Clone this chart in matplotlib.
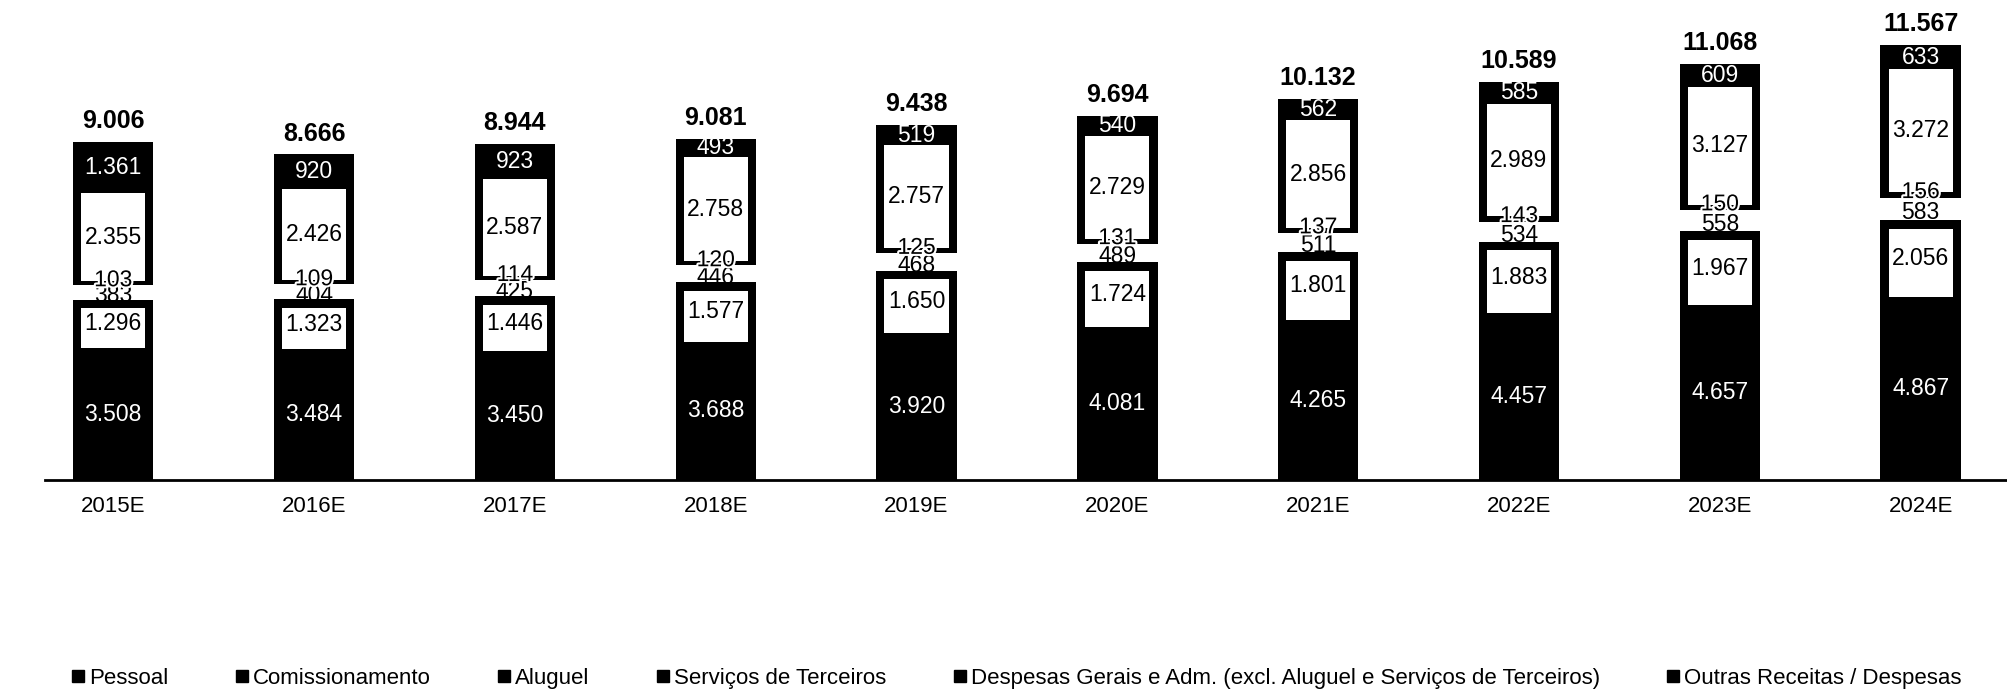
import matplotlib
matplotlib.use("Agg")
import matplotlib.pyplot as plt
import matplotlib.patheffects as pe
from matplotlib.lines import Line2D
import numpy as np

plt.rcParams['font.family'] = ['Liberation Sans', 'DejaVu Sans']

years = ["2015E", "2016E", "2017E", "2018E", "2019E", "2020E", "2021E", "2022E", "2023E", "2024E"]
pessoal = [3508, 3484, 3450, 3688, 3920, 4081, 4265, 4457, 4657, 4867]
comissionamento = [1296, 1323, 1446, 1577, 1650, 1724, 1801, 1883, 1967, 2056]
aluguel = [383, 404, 425, 446, 468, 489, 511, 534, 558, 583]
servicos = [103, 109, 114, 120, 125, 131, 137, 143, 150, 156]
despesas = [2355, 2426, 2587, 2758, 2757, 2729, 2856, 2989, 3127, 3272]
outras = [1361, 920, 923, 493, 519, 540, 562, 585, 609, 633]
totais = [9006, 8666, 8944, 9081, 9438, 9694, 10132, 10589, 11068, 11567]
series_names = ["Pessoal", "Comissionamento", "Aluguel", "Serviços de Terceiros",
                "Despesas Gerais e Adm. (excl. Aluguel e Serviços de Terceiros)",
                "Outras Receitas / Despesas"]


def fmt(v):
    return f"{v:,}".replace(",", ".")


fig = plt.figure(figsize=(20.07, 6.94), dpi=100)
ax = fig.add_axes([0.0224, 0.308, 0.9776, 0.692])

x = np.arange(len(years))
W = 0.40
Winner = 0.32
pad = 230

series = [pessoal, comissionamento, aluguel, servicos, despesas, outras]
faces = ["black", "black", "white", "black", "black", "black"]
txtcol = ["white", "black", "black", "black", "black", "white"]
nudge = [0, 0, -2.5, 2.5, 0, 0]

bottom = np.zeros(len(years))
bottoms = []
for vals, fc in zip(series, faces):
    vals = np.array(vals, dtype=float)
    ax.bar(x, vals, W, bottom=bottom, color=fc, edgecolor="none", zorder=2)
    bottoms.append(bottom.copy())
    bottom = bottom + vals

# white inner panels for Comissionamento and Despesas
com = np.array(comissionamento, float)
ax.bar(x, com - pad, Winner, bottom=bottoms[1], color="white", edgecolor="none", zorder=3)
des = np.array(despesas, float)
ax.bar(x, des, Winner, bottom=bottoms[4], color="white", edgecolor="none", zorder=3)

# segment labels
for si, vals in enumerate(series):
    for i, v in enumerate(vals):
        yc = bottoms[si][i] + v / 2
        kw = {}
        if si == 3:
            kw["path_effects"] = [pe.withStroke(linewidth=3, foreground="white")]
        ax.annotate(fmt(v), (x[i], yc), xytext=(0, nudge[si]), textcoords="offset points",
                    ha="center", va="center", fontsize=16.5,
                    color=txtcol[si], zorder=5, **kw)

# totals
for i, t in enumerate(totais):
    ax.annotate(fmt(t), (x[i], bottom[i]), xytext=(0, 15), textcoords="offset points",
                ha="center", va="center", fontsize=18, fontweight="bold", color="black")

ax.set_xlim(-0.34, 9.43)
ax.set_ylim(0, 12770)
ax.set_xticks(x)
ax.set_xticklabels(years, fontsize=16)
ax.tick_params(axis="x", length=0, pad=11)
ax.set_yticks([])
for s in ["top", "right", "left"]:
    ax.spines[s].set_visible(False)
ax.spines["bottom"].set_linewidth(2)
ax.spines["bottom"].set_color("black")

handles = [Line2D([], [], marker="s", color="black", linestyle="none", markersize=9)
           for _ in series_names]
fig.legend(handles, series_names, loc="center", bbox_to_anchor=(0.506, 0.023), ncol=6,
           frameon=False, fontsize=16, handletextpad=0.1, columnspacing=2.9,
           handlelength=0.8)

fig.savefig("out.png", dpi=100)
